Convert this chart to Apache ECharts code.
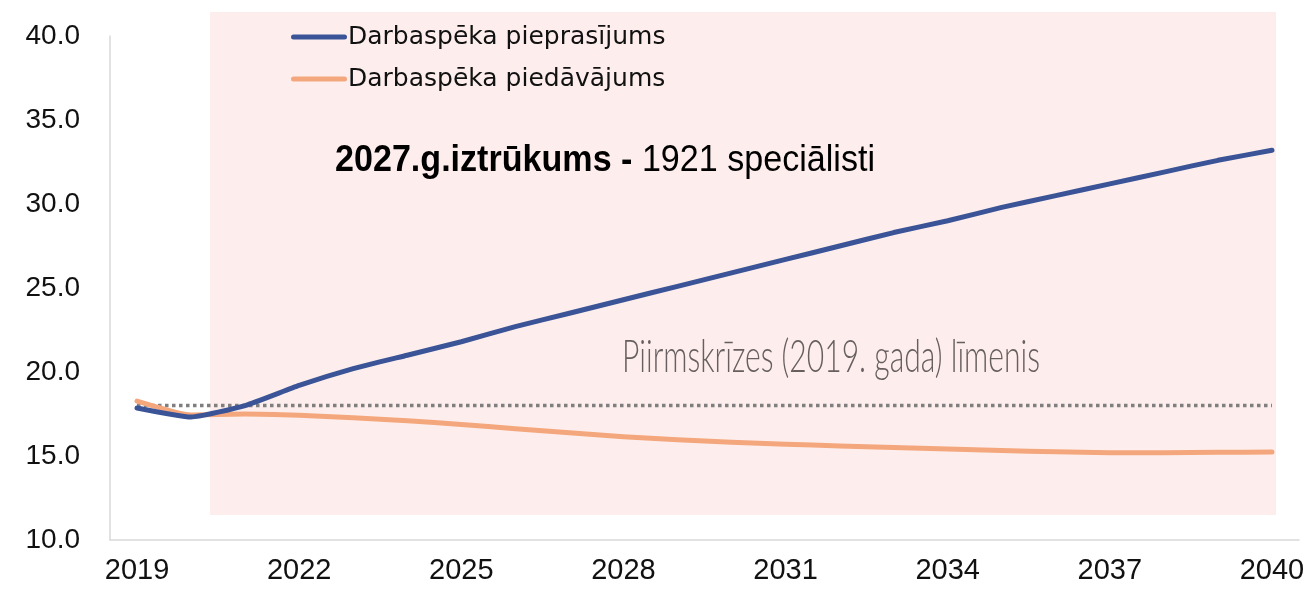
<!DOCTYPE html>
<html>
<head>
<meta charset="utf-8">
<script src="https://cdn.jsdelivr.net/npm/echarts@6/dist/echarts.min.js"></script>
<style>html,body{margin:0;padding:0;background:#fff}#c{width:1312px;height:595px}</style>
</head>
<body>
<div id="c"></div>
<script>
const years = ['2019','2020','2021','2022','2023','2024','2025','2026','2027','2028','2029','2030','2031','2032','2033','2034','2035','2036','2037','2038','2039','2040'];
const demand = [17.86,17.32,18.0,19.2,20.2,21.0,21.8,22.7,23.5,24.3,25.1,25.9,26.7,27.5,28.3,29.0,29.8,30.5,31.2,31.9,32.6,33.2];
const supply = [18.27,17.44,17.5,17.42,17.27,17.1,16.88,16.62,16.38,16.15,15.97,15.82,15.7,15.6,15.5,15.42,15.33,15.25,15.2,15.2,15.22,15.24];
const preCrisisLevel = 18.0;
const seriesNames = ['Darbaspēka pieprasījums','Darbaspēka piedāvājums'];
const yTicks = {min:10, max:40, interval:5};
const annotationBold = '2027.g.iztrūkums - ';
const annotationNormal = '1921 speciālisti';
const levelLabel = 'Piirmskrīzes (2019. gada) līmenis';

// measure text to compress into a condensed look
const mctx = document.createElement('canvas').getContext('2d');
function measure(font, txt){ mctx.font = font; return mctx.measureText(txt).width; }
const annFontSize = 37;
const annW = measure('bold '+annFontSize+'px "Liberation Sans"', annotationBold) + measure(annFontSize+'px "Liberation Sans"', annotationNormal);
const annScale = 540 / annW;
const lvlFontSize = 46;
const lvlW = measure('300 '+lvlFontSize+'px Lato', levelLabel);
const lvlScale = 418 / lvlW;

const chart = echarts.init(document.getElementById('c'));
const option = {
  animation:false,
  backgroundColor:'#ffffff',
  grid:{left:110,right:13,top:36,bottom:55,containLabel:false},
  legend:{
    orient:'vertical', left:286, top:18, itemWidth:56, itemHeight:10, itemGap:14,
    data:seriesNames.map(n=>({name:n, icon:'path://M2.5,0 L53.5,0 A2.5,2.5 0 0 1 53.5,5 L2.5,5 A2.5,2.5 0 0 1 2.5,0 Z'})),
    textStyle:{fontFamily:'DejaVu Sans', fontSize:25, lineHeight:28, color:'#111', padding:[0,0,0,-4]}
  },
  xAxis:{
    type:'category', data:years, boundaryGap:true,
    axisLine:{show:true,lineStyle:{color:'#d9d9d9',width:1.5}},
    axisTick:{show:false},
    axisLabel:{interval:2, margin:16, fontFamily:'Liberation Sans', fontSize:29, color:'#111'},
    splitLine:{show:false}
  },
  yAxis:{
    type:'value', min:yTicks.min, max:yTicks.max, interval:yTicks.interval,
    axisLine:{show:true,lineStyle:{color:'#d9d9d9',width:1.5}},
    axisTick:{show:false},
    splitLine:{show:false},
    axisLabel:{margin:30, fontFamily:'Liberation Sans', fontSize:28, color:'#111', formatter:v=>v.toFixed(1)}
  },
  graphic:[
    {type:'rect', z:-10, shape:{x:210,y:12,width:1066,height:503}, style:{fill:'#fdeeed'}},
    {type:'text', z:100, x:335, y:142, scaleX:annScale, style:{
      rich:{b:{fontFamily:'Liberation Sans', fontWeight:'bold', fontSize:annFontSize, fill:'#000'},
            n:{fontFamily:'Liberation Sans', fontSize:annFontSize, fill:'#000'}},
      text:'{b|'+annotationBold+'}{n|'+annotationNormal+'}'
    }},
    {type:'text', z:100, x:622, y:334, scaleX:lvlScale, style:{
      text:levelLabel, fontFamily:'Lato', fontWeight:300, fontSize:lvlFontSize, fill:'#675f5f'
    }}
  ],
  series:[
    {name:seriesNames[0], type:'line', data:demand, smooth:0.15, symbol:'none',
     lineStyle:{color:'#3a5497',width:5,cap:'round',join:'round'}, itemStyle:{color:'#3a5497'}, z:4},
    {name:seriesNames[1], type:'line', data:supply, smooth:0.15, symbol:'none',
     lineStyle:{color:'#f4a77c',width:5,cap:'round',join:'round'}, itemStyle:{color:'#f4a77c'}, z:3},
    {name:'level', type:'line', data:years.map(()=>preCrisisLevel), symbol:'none',
     lineStyle:{color:'#7f7f7f',width:3.5,type:[3.5,3.5]}, z:2, silent:true}
  ]
};
chart.setOption(option);
</script>
</body>
</html>
